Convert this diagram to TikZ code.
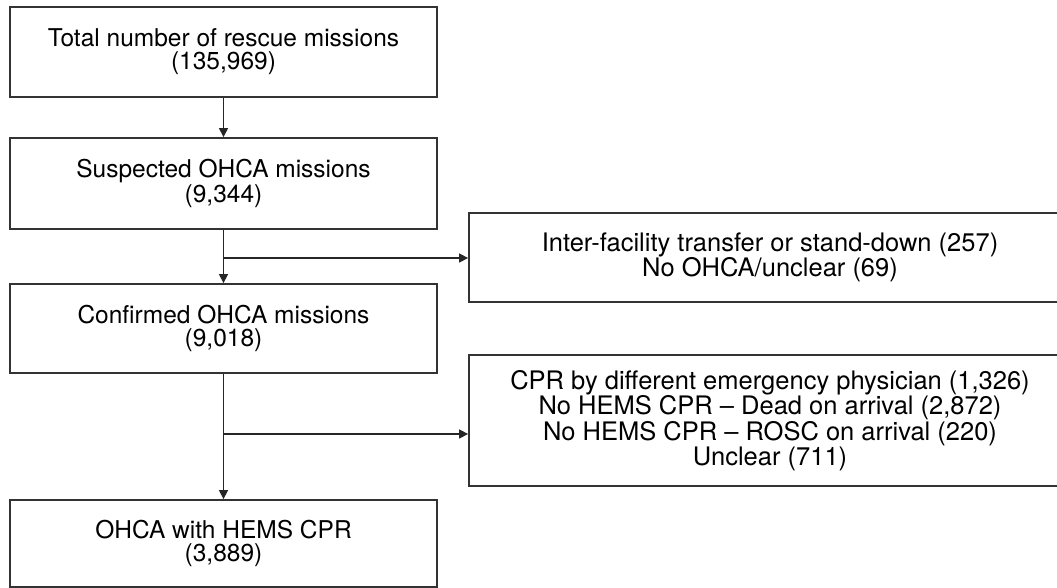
\documentclass[tikz,border=0pt]{standalone}
\usepackage{fontspec}
\setmainfont{TeX Gyre Heros}
\usetikzlibrary{arrows.meta}
\tikzset{
  box/.style={draw=black!80, line width=1.8pt, fill=white, inner sep=0pt, align=center,
    font=\fontsize{24.5}{23}\selectfont},
  sidebox/.style={box, font=\fontsize{25.5}{25.5}\selectfont},
  flow/.style={draw=black!85, line width=1.4pt, -{Triangle[length=9pt,width=9pt]}}
}
\begin{document}
\begin{tikzpicture}[x=1pt,y=-1pt]
\useasboundingbox (0,0) rectangle (1057,588);
\fill[white] (0,0) rectangle (1057,588);
\node[box, minimum width=427pt, minimum height=90pt] (n1) at (223.5,52)
  {Total number of rescue missions\\(135,969)};
\node[box, minimum width=427pt, minimum height=91pt] (n2) at (223.5,183.5)
  {Suspected OHCA missions\\(9,344)};
\node[box, minimum width=427pt, minimum height=89pt] (n3) at (223.5,328.5)
  {Confirmed OHCA missions\\(9,018)};
\node[box, minimum width=427pt, minimum height=87pt] (n4) at (223.5,543.5)
  {OHCA with HEMS CPR\\(3,889)};
\node[sidebox, minimum width=602pt, minimum height=89pt] (r1) at (770,257.5)
  {Inter-facility transfer or stand-down (257)\\No OHCA/unclear (69)};
\node[sidebox, minimum width=602pt, minimum height=131pt] (r2) at (770,420.5)
  {CPR by different emergency physician (1,326)\\No HEMS CPR -- Dead on arrival (2,872)\\No HEMS CPR -- ROSC on arrival (220)\\Unclear (711)};
\coordinate (j1) at (223.5,258);
\coordinate (j2) at (223.5,434);
\draw[flow] (n1.south) -- (n2.north);
\draw[flow] (n2.south) -- (n3.north);
\draw[flow] (j1) -- (j1 -| r1.west);
\draw[flow] (n3.south) -- (n4.north);
\draw[flow] (j2) -- (j2 -| r2.west);
\end{tikzpicture}
\end{document}
